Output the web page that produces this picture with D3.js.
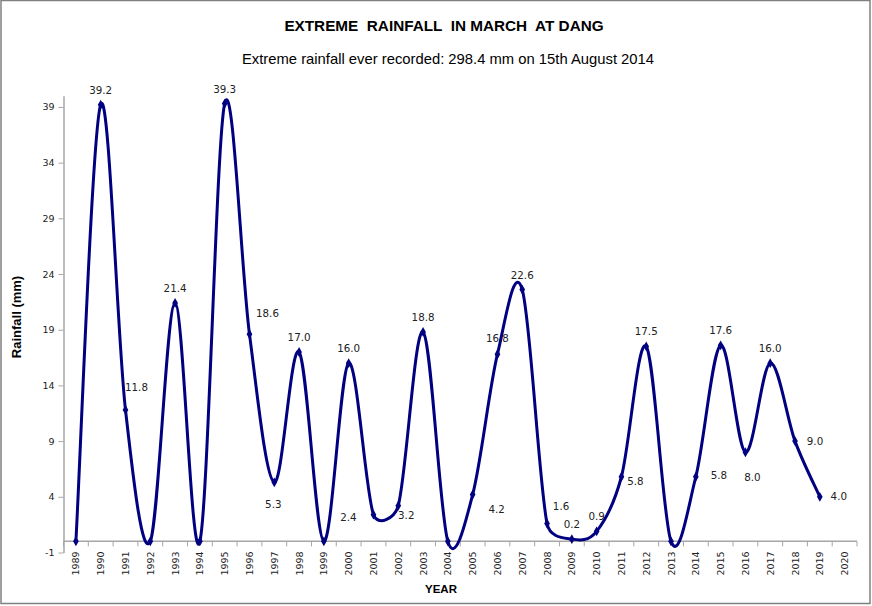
<!DOCTYPE html>
<html><head><meta charset="utf-8">
<script src="https://cdn.jsdelivr.net/npm/d3@7"></script>
<style>body{margin:0;background:#fff;} svg{display:block;font-family:"Liberation Sans",Arial,sans-serif;}</style>
</head><body>
<svg id="c" width="872" height="606"></svg>
<script>
const years = d3.range(1989, 2021).map(String);
const rainYears = ["1989","1990","1991","1992","1993","1994","1995","1996","1997","1998","1999","2000","2001","2002","2003","2004","2005","2006","2007","2008","2009","2010","2011","2012","2013","2014","2015","2016","2017","2018","2019"];
const rainfall = [0,39.2,11.8,0,21.4,0,39.3,18.6,5.3,17.0,0,16.0,2.4,3.2,18.8,0,4.2,16.8,22.6,1.6,0.2,0.9,5.8,17.5,0,5.8,17.6,8.0,16.0,9.0,4.0];
const yTicks = [-1,4,9,14,19,24,29,34,39];
const title = "EXTREME  RAINFALL  IN MARCH  AT DANG";
const subtitle = "Extreme rainfall ever recorded: 298.4 mm on 15th August 2014";

const svg = d3.select("#c");
svg.append("rect").attr("x",1).attr("y",0.5).attr("width",869).attr("height",603)
  .attr("fill","#fff").attr("stroke","#808080").attr("stroke-width",1.5);

const L = 63.5, R = 857, T = 95.8, B = 552.5;
const x = d3.scaleBand().domain(years).range([L, R]);
const y = d3.scaleLinear().domain([-1, 40]).range([B, T]);

// titles
svg.append("text").attr("x",444).attr("y",31).attr("text-anchor","middle")
  .attr("font-weight","bold").attr("font-size",15.3).attr("fill","#000").style("white-space","pre").text(title);
svg.append("text").attr("x",448).attr("y",64).attr("text-anchor","middle")
  .attr("font-size",14.8).attr("fill","#000").text(subtitle);

// y axis
const yAxis = d3.axisLeft(y).tickValues(yTicks).tickSize(5).tickSizeOuter(0).tickFormat(d => String(d));
const gy = svg.append("g").attr("transform",`translate(${L},0)`).call(yAxis);
gy.select(".domain").attr("stroke","#a6a6a6").attr("stroke-width",1.5);
gy.selectAll(".tick line").attr("stroke","#a6a6a6");
gy.selectAll(".tick text").attr("fill","#222").attr("x",-9)
  .style("font-family","'DejaVu Sans',sans-serif").attr("font-size",9.5);

// x axis at value 0
const gx = svg.append("g").attr("transform",`translate(0,${y(0)})`);
gx.append("line").attr("x1",L).attr("x2",R).attr("stroke","#a6a6a6").attr("stroke-width",1.5);
const bounds = years.map(d => x(d)).concat([R]);
gx.selectAll("line.t").data(bounds).join("line").attr("class","t")
  .attr("x1",d=>d).attr("x2",d=>d).attr("y1",0).attr("y2",5).attr("stroke","#a6a6a6");
gx.selectAll("text").data(years).join("text")
  .attr("transform",d=>`translate(${x(d)+x.bandwidth()/2+3.5},10) rotate(-90)`)
  .attr("text-anchor","end").attr("font-size",9.5).attr("fill","#222")
  .style("font-family","'DejaVu Sans',sans-serif").text(d=>d);

// axis titles
svg.append("text").attr("transform","translate(21,317) rotate(-90)").attr("text-anchor","middle")
  .attr("font-weight","bold").attr("font-size",13).attr("fill","#000").text("Rainfall (mm)");
svg.append("text").attr("x",441).attr("y",593).attr("text-anchor","middle")
  .attr("font-weight","bold").attr("font-size",11.5).attr("fill","#000").text("YEAR");

// smoothed line (Excel-like Bezier smoothing with clamped control vectors)
const pts = rainYears.map((yr,i)=>({yr, v: rainfall[i]}));
const P = pts.map(d => [x(d.yr) + x.bandwidth()/2, y(d.v)]);
const n = P.length;
const tang = P.map((p,i) => {
  const a = P[Math.max(0,i-1)], b = P[Math.min(n-1,i+1)];
  return [(b[0]-a[0])/6, (b[1]-a[1])/6];
});
function clampVec(v, maxLen){
  const l = Math.hypot(v[0], v[1]);
  return l > maxLen ? [v[0]*maxLen/l, v[1]*maxLen/l] : v;
}
const path = d3.path();
path.moveTo(P[0][0], P[0][1]);
for (let i = 0; i < n-1; i++) {
  const p1 = P[i], p2 = P[i+1];
  const seg = Math.hypot(p2[0]-p1[0], p2[1]-p1[1]);
  const t1 = clampVec(tang[i], seg*0.5), t2 = clampVec(tang[i+1], seg*0.5);
  path.bezierCurveTo(p1[0]+t1[0], p1[1]+t1[1], p2[0]-t2[0], p2[1]-t2[1], p2[0], p2[1]);
}
svg.append("path").attr("d", path.toString()).attr("fill","none")
  .attr("stroke","#000080").attr("stroke-width",3).attr("stroke-linejoin","round");

const diamond = d3.symbol().type(d3.symbolDiamond).size(28);
svg.selectAll("path.m").data(pts).join("path").attr("class","m")
  .attr("transform",(d,i)=>`translate(${P[i][0]},${P[i][1]})`).attr("d",diamond).attr("fill","#000080");

// labels
const place = {"1991":[11,-19],"1996":[18,-17],"1997":[-1,26],"2001":[-25,6],"2002":[8,13],
  "2005":[24,18],"2008":[14,-14],"2011":[14,8],"2014":[23,2],"2016":[7,29],"2018":[20,4],"2019":[19,3],
  "2006":[0,-12]};
svg.selectAll("text.lbl").data(pts.filter(d=>d.v!==0)).join("text").attr("class","lbl")
  .attr("x",d=>x(d.yr)+x.bandwidth()/2+(place[d.yr]?place[d.yr][0]:0))
  .attr("y",d=>y(d.v)+(place[d.yr]?place[d.yr][1]:-11))
  .attr("text-anchor","middle").attr("font-size",10.3).attr("fill","#222")
  .style("font-family","'DejaVu Sans',sans-serif")
  .text(d=>d3.format(".1f")(d.v));
</script>
</body></html>
